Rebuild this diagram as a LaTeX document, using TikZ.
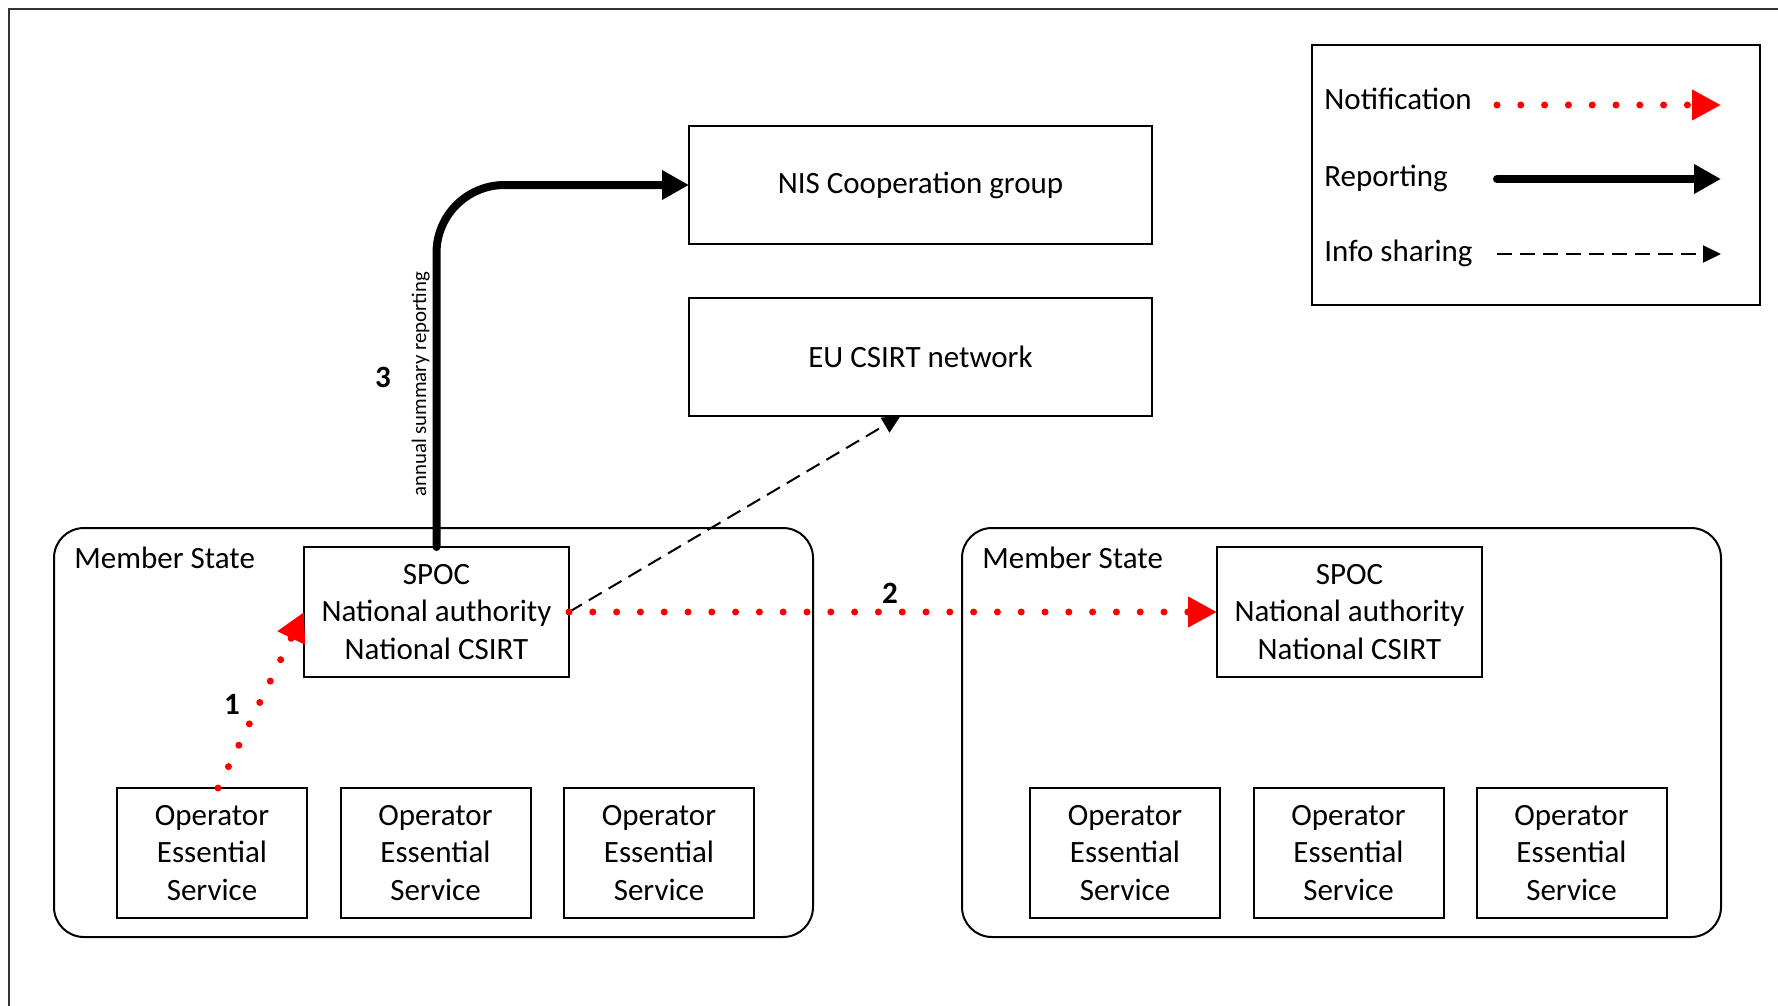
\documentclass[tikz,border=0pt]{standalone}
\usepackage{fontspec}
\setmainfont{Carlito}
\usetikzlibrary{arrows.meta}
\definecolor{notifred}{RGB}{255,0,0}
\newcommand\mainfs{\fontsize{15.5}{18.75}\selectfont}
\newcommand\smallfs{\fontsize{10.4}{12}\selectfont}
\begin{document}
\begin{tikzpicture}[x=0.5pt,y=-0.5pt,
  box/.style={draw,line width=1pt,fill=white,inner sep=0pt,outer sep=0pt,
    align=center,font=\mainfs},
  opbox/.style={box,minimum width=95pt,minimum height=65pt},
  spocbox/.style={box,minimum width=132.5pt,minimum height=65pt},
  eubox/.style={box,minimum width=231.5pt,minimum height=59pt},
  msbox/.style={draw,line width=1pt,rounded corners=15pt,inner sep=0pt,
    outer sep=0pt,minimum width=379.5pt,minimum height=204.5pt},
  txt/.style={inner sep=0pt,font=\mainfs},
  num/.style={inner sep=0pt,font=\mainfs\bfseries},
  notif/.style={draw=notifred,line width=3.5pt,line cap=round,
    dash pattern=on 0pt off 11.9pt,
    -{Triangle[length=14.5pt,width=14.5pt,fill=notifred]}},
  report/.style={draw,line width=4pt,line cap=round,
    -{Triangle[length=13.5pt,width=14pt]}},
  share/.style={draw,line width=1pt,dash pattern=on 7.5pt off 4pt,
    -{Triangle[length=9pt,width=8.5pt]}}]

\useasboundingbox (0,0) rectangle (1778,1006);

% outer frame (top and left edges)
\draw[line width=1pt,black!80] (9,1006) -- (9,9) -- (1778,9);

% legend
\node[draw,line width=1pt,inner sep=0pt,minimum width=224pt,minimum height=130pt]
  (legend) at (1536,175) {};
\node[txt,anchor=base west] (lgnotif) at (1324,110) {Notification};
\node[txt,anchor=base west] (lgreport) at (1324,186) {Reporting};
\node[txt,anchor=base west] (lgshare) at (1324,261) {Info sharing};
\coordinate (ln1) at (1497,105);
\coordinate (ln2) at (1721,105);
\coordinate (lr1) at (1497,179);
\coordinate (lr2) at (1721,179);
\coordinate (ls1) at (1497,254);
\coordinate (ls2) at (1721,254);
\draw[notif] (ln1) -- (ln2);
\draw[report] (lr1) -- (lr2);
\draw[share] (ls1) -- (ls2);

% EU level bodies
\node[eubox] (nis) at (920.5,185) {NIS Cooperation group};
\node[eubox] (eu) at (920.5,357) {EU CSIRT network};

% member states
\node[msbox] (ms1) at (433.5,732.5) {};
\node[msbox] (ms2) at (1341.5,732.5) {};
\node[txt,anchor=base west] (ms1lbl) at (74,568) {Member State};
\node[txt,anchor=base west] (ms2lbl) at (982,568) {Member State};

\node[spocbox] (spoc1) at (436.5,612) {SPOC\\National authority\\National CSIRT};
\node[spocbox] (spoc2) at (1349.5,612) {SPOC\\National authority\\National CSIRT};

\node[opbox] (op1) at (212,853) {Operator\\Essential\\Service};
\node[opbox] (op2) at (435.5,853) {Operator\\Essential\\Service};
\node[opbox] (op3) at (659,853) {Operator\\Essential\\Service};
\node[opbox] (op4) at (1125,853) {Operator\\Essential\\Service};
\node[opbox] (op5) at (1348.5,853) {Operator\\Essential\\Service};
\node[opbox] (op6) at (1571.5,853) {Operator\\Essential\\Service};

% flows
\draw[notif] ([xshift=3pt]op1.north) -- (spoc1.west);
\draw[share] (spoc1.east) -- ([xshift=-10pt]eu.south);
\draw[notif] (spoc1.east) -- (spoc2.west);
\draw[report,rounded corners=34pt] (spoc1.north) |- (nis.west);

% step numbers and labels
\node[num] (s1) at (232,704) {1};
\node[num] (s2) at (890,593) {2};
\node[num] (s3) at (383,377) {3};
\node[rotate=90,anchor=base west,inner sep=0pt,font=\smallfs] (annual)
  at (426,497) {annual summary reporting};
\end{tikzpicture}
\end{document}
